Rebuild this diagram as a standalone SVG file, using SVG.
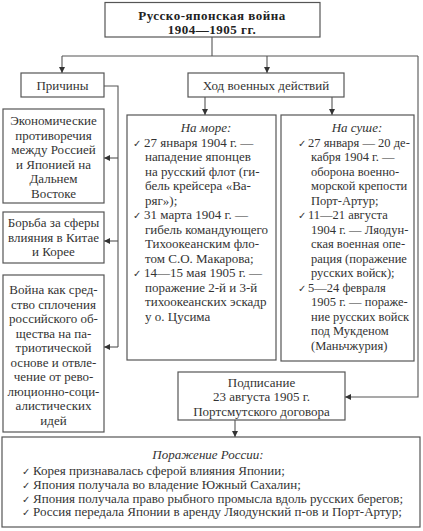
<svg xmlns="http://www.w3.org/2000/svg" width="423" height="531" viewBox="0 0 423 531">
<style>
rect.box{fill:#fff;stroke:#555;stroke-width:1.2}
.t{font-family:"Liberation Serif","Times New Roman",serif;font-size:13px;fill:#333}
.s{font-size:12.5px}
.c{text-anchor:middle}
.b{font-weight:bold;font-size:13px;fill:#222;letter-spacing:0.5px}
.i{font-style:italic}
.ck{font-family:"DejaVu Sans",sans-serif;font-size:10px;fill:#333}
.ln{fill:none;stroke:#555;stroke-width:1.1}
</style>
<defs>
<marker id="ah" viewBox="0 0 6 6" refX="6" refY="3" markerWidth="6" markerHeight="6" markerUnits="userSpaceOnUse" orient="auto">
<path d="M0,0 L6,3 L0,6 z" fill="#333"/>
</marker>
</defs>
<g id="connectors">
<path class="ln" d="M212,37 V56 M62,56 H418"/>
<path class="ln" d="M62,56 V73" marker-end="url(#ah)"/>
<path class="ln" d="M267,56 V73" marker-end="url(#ah)"/>
<path class="ln" d="M418,56 V397 H345" marker-end="url(#ah)"/>
<path class="ln" d="M104,86 H118 V347"/>
<path class="ln" d="M118,158 H104" marker-end="url(#ah)"/>
<path class="ln" d="M118,241 H104" marker-end="url(#ah)"/>
<path class="ln" d="M118,347 H104" marker-end="url(#ah)"/>
<path class="ln" d="M205,97 V115" marker-end="url(#ah)"/>
<path class="ln" d="M332,97 V115" marker-end="url(#ah)"/>
<path class="ln" d="M235,420 V437" marker-end="url(#ah)"/>
</g>
<g id="title">
<rect class="box" x="105" y="2.5" width="215" height="34.5"/>
<text class="t b c" x="212" y="19.5">Русско-японская война</text>
<text class="t b c" x="212" y="34">1904—1905 гг.</text>
</g>
<g id="prichiny">
<rect class="box" x="21" y="73" width="83" height="24"/>
<text class="t c" x="62.5" y="90">Причины</text>
</g>
<g id="ekonom">
<rect class="box" x="3" y="109" width="101" height="94"/>
<text class="t c" x="53.5" y="125">Экономические</text>
<text class="t c" x="53.5" y="139.5">противоречия</text>
<text class="t c" x="53.5" y="154">между Россией</text>
<text class="t c" x="53.5" y="168.5">и Японией на</text>
<text class="t c" x="53.5" y="183">Дальнем</text>
<text class="t c" x="53.5" y="197.5">Востоке</text>
</g>
<g id="borba">
<rect class="box" x="3" y="212" width="101" height="51"/>
<text class="t c" x="53.5" y="227">Борьба за сферы</text>
<text class="t c" x="53.5" y="241.5">влияния в Китае</text>
<text class="t c" x="53.5" y="256">и Корее</text>
</g>
<g id="voina">
<rect class="box" x="3" y="275" width="101" height="157"/>
<text class="t c" x="53.5" y="294">Война как сред-</text>
<text class="t c" x="53.5" y="308.5">ство сплочения</text>
<text class="t c" x="53.5" y="323">российского об-</text>
<text class="t c" x="53.5" y="337.5">щества на па-</text>
<text class="t c" x="53.5" y="352">триотической</text>
<text class="t c" x="53.5" y="366.5">основе и отвле-</text>
<text class="t c" x="53.5" y="381">чение от рево-</text>
<text class="t c" x="53.5" y="395.5">люционно-соци-</text>
<text class="t c" x="53.5" y="410">алистических</text>
<text class="t c" x="53.5" y="424.5">идей</text>
</g>
<g id="hod">
<rect class="box" x="188" y="73" width="156" height="24"/>
<text class="t c" x="266" y="90">Ход военных действий</text>
</g>
<g id="more">
<rect class="box" x="127" y="115" width="149" height="245"/>
<text class="t c i" x="206" y="132">На море:</text>
<text class="ck" x="133" y="146.5">✓</text>
<text class="t" x="144" y="146.5">27 января 1904 г. —</text>
<text class="t" x="145" y="161">нападение японцев</text>
<text class="t" x="145" y="175.5">на русский флот (ги-</text>
<text class="t" x="145" y="190">бель крейсера «Ва-</text>
<text class="t" x="145" y="204.5">ряг»);</text>
<text class="ck" x="133" y="219">✓</text>
<text class="t" x="144" y="219">31 марта 1904 г. —</text>
<text class="t" x="145" y="233.5">гибель командующего</text>
<text class="t" x="145" y="248">Тихоокеанским фло-</text>
<text class="t" x="145" y="262.5">том С.О. Макарова;</text>
<text class="ck" x="133" y="277">✓</text>
<text class="t" x="144" y="277">14—15 мая 1905 г. —</text>
<text class="t" x="145" y="291.5">поражение 2-й и 3-й</text>
<text class="t" x="145" y="306">тихоокеанских эскадр</text>
<text class="t" x="145" y="320.5">у о. Цусима</text>
</g>
<g id="sushe">
<rect class="box" x="281" y="115" width="133" height="246"/>
<text class="t c i" x="357" y="132">На суше:</text>
<text class="ck" x="298" y="146.5">✓</text>
<text class="t s" x="308" y="146.5">27 января — 20 де-</text>
<text class="t s" x="311" y="161">кабря 1904 г. —</text>
<text class="t s" x="311" y="175.5">оборона военно-</text>
<text class="t s" x="311" y="190">морской крепости</text>
<text class="t s" x="311" y="204.5">Порт-Артур;</text>
<text class="ck" x="298" y="219">✓</text>
<text class="t s" x="308" y="219">11—21 августа</text>
<text class="t s" x="311" y="233.5">1904 г. — Ляодун-</text>
<text class="t s" x="311" y="248">ская военная опе-</text>
<text class="t s" x="311" y="262.5">рация (поражение</text>
<text class="t s" x="311" y="277">русских войск);</text>
<text class="ck" x="298" y="291.5">✓</text>
<text class="t s" x="308" y="291.5">5—24 февраля</text>
<text class="t s" x="311" y="306">1905 г. — пораже-</text>
<text class="t s" x="311" y="320.5">ние русских войск</text>
<text class="t s" x="311" y="335">под Мукденом</text>
<text class="t s" x="311" y="349.5">(Маньчжурия)</text>
</g>
<g id="podpisanie">
<rect class="box" x="178" y="372" width="167" height="48"/>
<text class="t c" x="261.5" y="386.5">Подписание</text>
<text class="t c" x="261.5" y="401">23 августа 1905 г.</text>
<text class="t c" x="261.5" y="415.5">Портсмутского договора</text>
</g>
<g id="porazhenie">
<rect class="box" x="2" y="437" width="418" height="90"/>
<text class="t c i" x="208" y="459">Поражение России:</text>
<text class="ck" x="22" y="475">✓</text>
<text class="t" x="33" y="475">Корея признавалась сферой влияния Японии;</text>
<text class="ck" x="22" y="488.5">✓</text>
<text class="t" x="33" y="488.5">Япония получала во владение Южный Сахалин;</text>
<text class="ck" x="22" y="502.5">✓</text>
<text class="t" x="33" y="502.5">Япония получала право рыбного промысла вдоль русских берегов;</text>
<text class="ck" x="22" y="516">✓</text>
<text class="t" x="33" y="516">Россия передала Японии в аренду Ляодунский п-ов и Порт-Артур;</text>
</g>
</svg>
